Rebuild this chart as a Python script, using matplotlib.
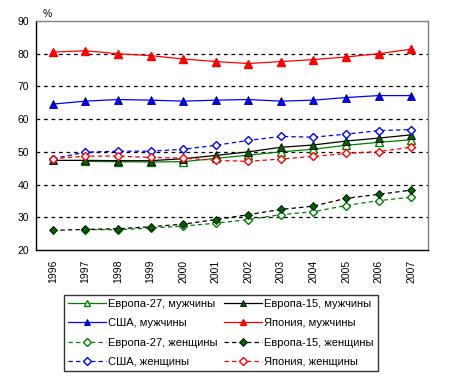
import numpy as np
import matplotlib
matplotlib.use("Agg")
import matplotlib.pyplot as plt

plt.rcParams['font.family'] = ['Liberation Sans', 'DejaVu Sans']

years = ["1996", "1997", "1998", "1999", "2000", "2001", "2002",
         "2003", "2004", "2005", "2006", "2007"]
nan = np.nan

# men
eu27_m = [nan, 47.1, 47.0, 46.9, 47.0, 48.0, 49.0, 50.0, 50.8, 52.0, 52.9, 53.7]
eu15_m = [47.4, 47.4, 47.3, 47.3, 47.9, 48.9, 50.0, 51.4, 52.1, 53.3, 54.2, 55.2]
usa_m = [64.6, 65.5, 66.0, 65.8, 65.5, 65.8, 66.0, 65.5, 65.8, 66.6, 67.2, 67.2]
jp_m = [80.5, 80.9, 80.0, 79.4, 78.4, 77.6, 77.0, 77.6, 78.2, 79.0, 80.0, 81.4]

# women
eu27_w = [nan, 26.2, 26.2, 26.7, 27.3, 28.2, 29.3, 30.8, 31.7, 33.6, 35.1, 36.1]
eu15_w = [26.0, 26.3, 26.5, 27.1, 27.9, 29.3, 30.8, 32.4, 33.4, 35.8, 37.0, 38.3]
usa_w = [47.9, 49.9, 50.2, 50.2, 50.8, 52.0, 53.5, 54.7, 54.5, 55.4, 56.5, 56.8]
jp_w = [47.9, 48.7, 48.7, 48.3, 48.1, 47.4, 47.1, 47.8, 48.6, 49.5, 50.1, 51.4]

green = "#008000"
dkgreen = "#006400"

fig = plt.figure(figsize=(4.49, 3.81), dpi=100)
ax = fig.add_axes([36 / 449, 1 - 250 / 381, 392 / 449, 229 / 381])
x = np.arange(len(years))

dash = (0, (3.5, 2.5))
ms_t = 5.5
ms_d = 4.3
lw = 0.9

lines = {}
lines['e27m'], = ax.plot(x, eu27_m, color=green, lw=lw, marker='^', ms=ms_t,
                         mfc='white', mec=green, label="Европа-27, мужчины")
lines['e15m'], = ax.plot(x, eu15_m, color='black', lw=lw, marker='^', ms=ms_t,
                         mfc=dkgreen, mec='black', mew=0.6, label="Европа-15, мужчины")
lines['usm'], = ax.plot(x, usa_m, color='blue', lw=lw, marker='^', ms=ms_t,
                        mfc='blue', mec='#000080', mew=0.6, label="США, мужчины")
lines['jpm'], = ax.plot(x, jp_m, color='red', lw=lw, marker='^', ms=ms_t,
                        mfc='red', mec='red', label="Япония, мужчины")
lines['e27w'], = ax.plot(x, eu27_w, color=green, lw=lw, ls=dash, marker='D', ms=ms_d,
                         mfc='white', mec=green, label="Европа-27, женщины")
lines['e15w'], = ax.plot(x, eu15_w, color='black', lw=lw, ls=dash, marker='D', ms=ms_d,
                         mfc=dkgreen, mec='black', mew=0.6, label="Европа-15, женщины")
lines['usw'], = ax.plot(x, usa_w, color='blue', lw=lw, ls=dash, marker='D', ms=ms_d,
                        mfc='white', mec='blue', label="США, женщины")
lines['jpw'], = ax.plot(x, jp_w, color='red', lw=lw, ls=dash, marker='D', ms=ms_d,
                        mfc='white', mec='red', label="Япония, женщины")

ax.set_xlim(-0.52, 11.52)
ax.set_ylim(20, 90)
ax.set_yticks(range(20, 91, 10))
ax.set_xticks(x)
ax.set_xticklabels(years, rotation=90)
ax.tick_params(length=0, labelsize=7.5)
ax.tick_params(axis='y', pad=5)
ax.tick_params(axis='x', pad=7)

for yv in range(30, 90, 10):
    ax.axhline(yv, color='black', lw=0.9, ls=(0, (3, 3)), zorder=0)

ax.spines['left'].set_color('black')
ax.spines['bottom'].set_color('black')
ax.spines['top'].set_color('#808080')
ax.spines['right'].set_color('#808080')
for s in ax.spines.values():
    s.set_linewidth(1)

fig.text(43 / 449, 1 - 14 / 381, "%", fontsize=7.5, va='center', ha='left')

order = ['e27m', 'usm', 'e27w', 'usw', 'e15m', 'jpm', 'e15w', 'jpw']
handles = [lines[k] for k in order]
leg = fig.legend(handles=handles, labels=[h.get_label() for h in handles],
                 ncol=2, loc='center', bbox_to_anchor=(221 / 449, 1 - 333 / 381),
                 fontsize=8, frameon=True, fancybox=False, edgecolor='black',
                 handlelength=3.4, handletextpad=0.2, columnspacing=0.6,
                 labelspacing=0.85, borderpad=0.35, markerscale=0.85)
leg.get_frame().set_linewidth(1)

fig.savefig("out.png", dpi=100)
